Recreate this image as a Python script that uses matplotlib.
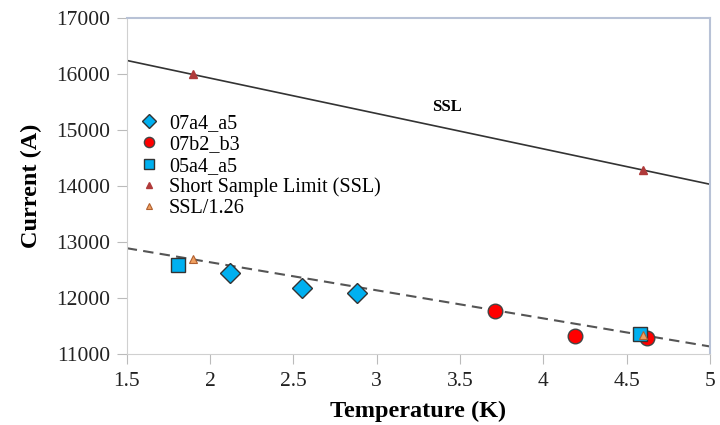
import matplotlib.pyplot as plt
import numpy as np

plt.rcParams['font.family'] = ['Liberation Serif', 'DejaVu Serif']

# measured data
t_07a4 = [2.12, 2.55, 2.88]
i_07a4 = [12450, 12180, 12090]

t_07b2 = [3.71, 4.19, 4.62]
i_07b2 = [11775, 11320, 11280]

t_05a4 = [1.81, 4.58]
i_05a4 = [12580, 11360]

t_ssl = [1.9, 4.6]
i_ssl = [16000, 14280]

# SSL trend line end points
t_line = [1.5, 5.0]
i_line = [16240, 14030]
ratio = 1.26

fig = plt.figure(figsize=(7.2, 4.25), dpi=100)
ax = fig.add_axes([0.176, 0.167, 0.810, 0.791])

ax.plot(t_line, i_line, color='#333333', lw=1.2, zorder=2)
ax.plot(t_line, np.array(i_line) / ratio, color='#555555', lw=1.5,
        ls=(0, (5, 3)), zorder=2)

ax.plot(t_07a4, i_07a4, 'D', ms=10, mfc='#00B0F0', mec='#333333', mew=1,
        ls='none', label='07a4_a5', zorder=3)
ax.plot(t_07b2, i_07b2, 'o', ms=10.5, mfc='#FF0000', mec='#444444', mew=1,
        ls='none', label='07b2_b3', zorder=3)
ax.plot(t_05a4, i_05a4, 's', ms=10, mfc='#00B0F0', mec='#333333', mew=1,
        ls='none', label='05a4_a5', zorder=4)
ax.plot(t_ssl, i_ssl, '^', ms=6, mfc='#B03A3A', mec='#B03A3A',
        ls='none', label='Short Sample Limit (SSL)', zorder=3)
ax.plot(t_ssl, np.array(i_ssl) / ratio, '^', ms=6, mfc='#F0A060',
        mec='#B06030', mew=0.8, ls='none', label='SSL/1.26', zorder=5)

ax.text(3.42, 15410, 'SSL', fontsize=12, fontweight='bold', ha='center',
        va='center')

ax.set_xlim(1.5, 5)
ax.set_ylim(11000, 17000)
ax.set_xticks([1.5, 2, 2.5, 3, 3.5, 4, 4.5, 5])
ax.set_xticklabels(['1.5', '2', '2.5', '3', '3.5', '4', '4.5', '5'])
ax.set_yticks(range(11000, 17001, 1000))

for s in ['left', 'bottom']:
    ax.spines[s].set_color('#D0D0D0')
for s in ['top', 'right']:
    ax.spines[s].set_color('#B8C2D6')
    ax.spines[s].set_linewidth(1.5)
ax.tick_params(axis='both', colors='#BBBBBB', labelcolor='#222222',
               labelsize=15.5, length=7, direction='out')
ax.tick_params(axis='y', pad=5)
ax.tick_params(axis='x', pad=6)

ax.set_xlabel('Temperature (K)', fontsize=17.5, fontweight='bold', labelpad=7)
ax.set_ylabel('Current (A)', fontsize=17.5, fontweight='bold', labelpad=10)

leg = ax.legend(loc='upper left', bbox_to_anchor=(0.0, 0.755), frameon=False,
                fontsize=14.5, handlelength=0.8, handletextpad=0.6,
                labelspacing=0.1, borderaxespad=0.3, markerscale=0.7)

fig.savefig('out.png')
